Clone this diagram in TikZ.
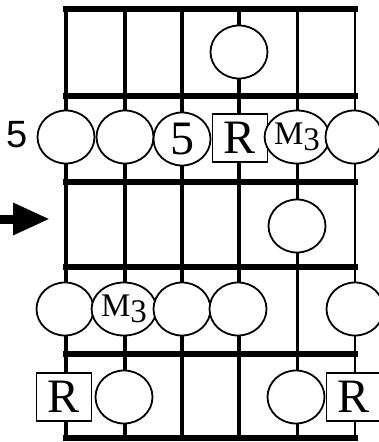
\documentclass[tikz,border=0pt]{standalone}
\usepackage{fontspec}
\setmainfont{Liberation Serif}
\setsansfont{Liberation Sans}
\usepackage{tikz}
\usetikzlibrary{
arrows.meta,
shapes.geometric
}

\begin{document}
\begin{tikzpicture}[
x=1pt,y=-1pt,
fret/.style={line width=6pt},
gstring/.style={line width=3.4pt},
note/.style={
draw,
ellipse,
fill=white,
line width=1.8pt,
minimum width=57pt,
minimum height=53pt,
inner sep=0pt
},
root/.style={
draw,
rectangle,
fill=white,
line width=1.6pt,
minimum width=55pt,
minimum height=48pt,
inner sep=0pt,
font=\fontsize{48}{48}\selectfont
},
big/.style={font=\fontsize{48}{48}\selectfont},
small/.style={font=\fontsize{33}{33}\selectfont},
arrow/.style={-{Triangle[length=37pt,width=30pt]},line width=9pt}
]

\useasboundingbox (0,0) rectangle (378,442);

% strings
\draw[gstring,line width=4.5pt] (66,9) -- (66,438);
\draw[gstring] (125,9) -- (125,438);
\draw[gstring] (182,9) -- (182,438);
\draw[gstring] (239,9) -- (239,438);
\draw[gstring,line width=3pt] (297,9) -- (297,438);
\draw[gstring,line width=2.2pt] (355,9) -- (355,438);

% frets
\draw[fret] (63,9) -- (358,9);
\draw[fret] (63,96) -- (358,96);
\draw[fret] (63,182) -- (358,182);
\draw[fret] (63,267) -- (358,267);
\draw[fret] (63,354) -- (358,354);
\draw[fret] (63,438) -- (358,438);

% fret 1
\node[note] (f1s4) at (239,52) {};

% fret 2
\node[note] (f2s1) at (66,137) {};
\node[note] (f2s2) at (125,137) {};
\node[note,big] (f2s3) at (182,139) {5};
\node[root] (f2s4) at (240,138) {R};
\node[note,small] (f2s5) at (297,137) {M\raisebox{-0.2em}{3}};
\node[note] (f2s6) at (354,137) {};
\node[font=\sffamily\fontsize{38}{38}\selectfont] (fifth) at (17,135) {5};

% fret 3
\node[note] (f3s5) at (297,226) {};
\coordinate (arrowtail) at (0,219);
\coordinate (arrowtip) at (50,219);
\draw[arrow] (arrowtail) -- (arrowtip);

% fret 4
\node[note] (f4s1) at (65,309) {};
\node[note,small] (f4s2) at (124,309) {M\raisebox{-0.2em}{3}};
\node[note] (f4s3) at (182,309) {};
\node[note] (f4s4) at (238,309) {};
\node[note] (f4s6) at (355,309) {};

% fret 5
\node[root] (f5s1) at (64,397) {R};
\node[note] (f5s2) at (124,397) {};
\node[note] (f5s5) at (296,397) {};
\node[root] (f5s6) at (354,397) {R};

\end{tikzpicture}
\end{document}
